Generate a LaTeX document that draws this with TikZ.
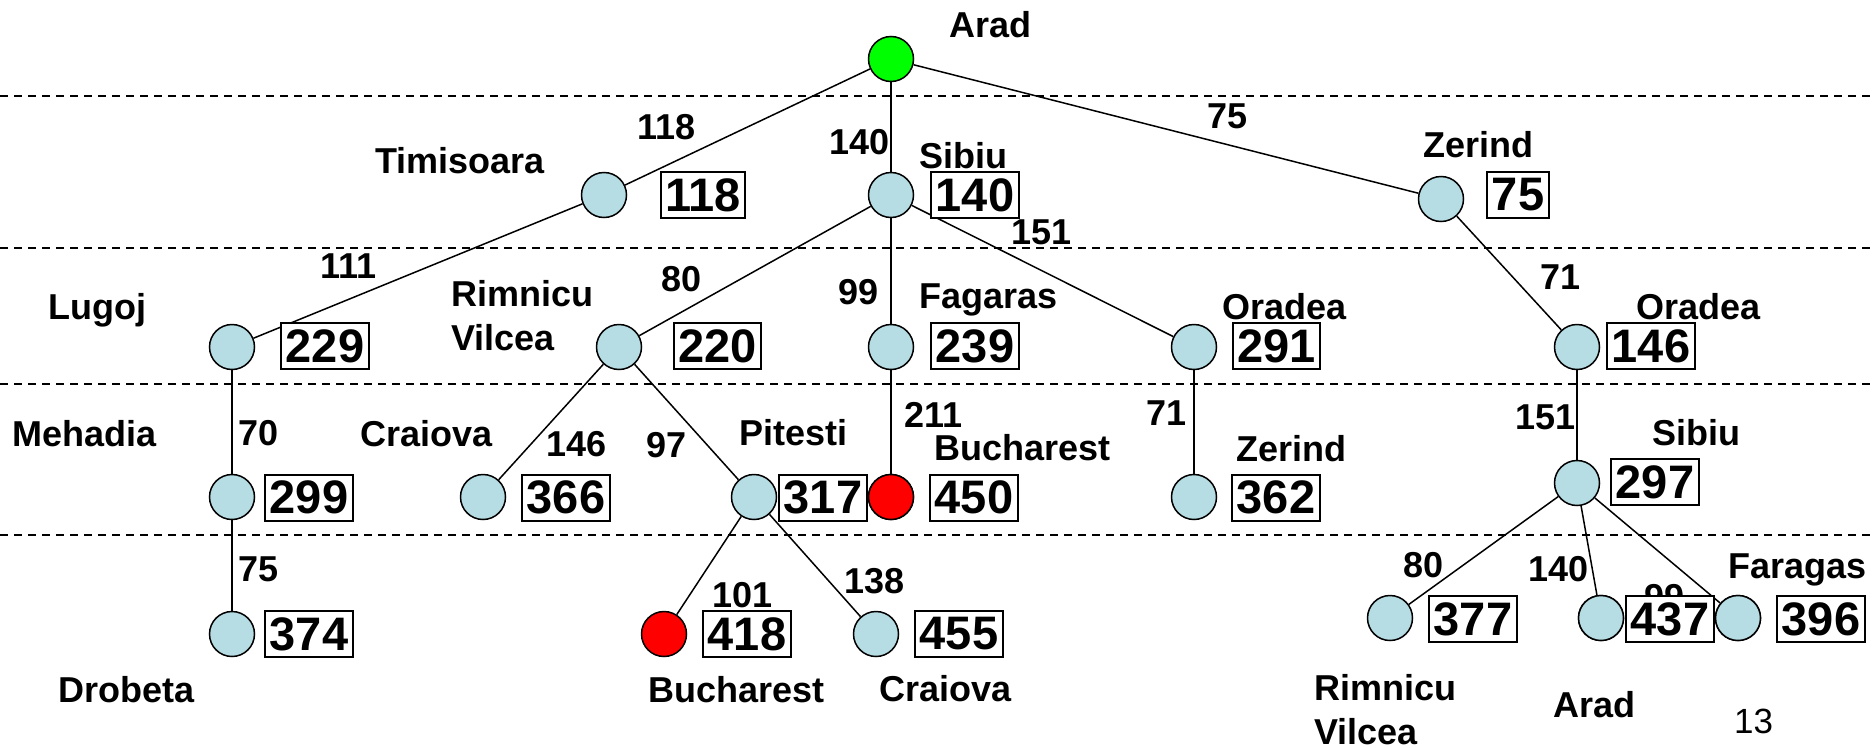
\documentclass[tikz,border=0pt]{standalone}
\usepackage{fontspec}
\setmainfont{Liberation Sans}
\definecolor{nodeblue}{RGB}{183,221,228}
\definecolor{startgreen}{RGB}{0,255,0}
\definecolor{goalred}{RGB}{255,0,0}
\newcommand{\lblfont}{\fontsize{36}{40}\selectfont\bfseries}
\newcommand{\numfont}{\fontsize{47}{50}\selectfont\bfseries}
\tikzset{
  city/.style={circle, draw, line width=1.5pt, fill=nodeblue, minimum size=45pt, inner sep=0pt},
  startcity/.style={city, fill=startgreen},
  goalcity/.style={city, fill=goalred},
  lbl/.style={anchor=base west, inner sep=0pt, font=\lblfont},
  num/.style={draw, line width=2pt, fill=white, inner xsep=4.5pt, inner ysep=0pt, minimum height=46pt, font=\numfont},
  lvl/.style={dash pattern=on 8pt off 6pt, line width=1.5pt},
  link/.style={line width=1.5pt}
}
\begin{document}
\begin{tikzpicture}[x=1pt,y=-1pt]
\useasboundingbox (0,0) rectangle (1876,747);
% level separators
\coordinate (l1a) at (0,96);   \coordinate (l1b) at (1876,96);
\coordinate (l2a) at (0,248);  \coordinate (l2b) at (1876,248);
\coordinate (l3a) at (0,384);  \coordinate (l3b) at (1876,384);
\coordinate (l4a) at (0,535);  \coordinate (l4b) at (1876,535);
\draw[lvl] (l1a) -- (l1b);
\draw[lvl] (l2a) -- (l2b);
\draw[lvl] (l3a) -- (l3b);
\draw[lvl] (l4a) -- (l4b);

% city nodes
\node[startcity] (arad) at (891,59) {};
\node[city] (tim) at (604,195) {};
\node[city] (sib) at (891,195) {};
\node[city] (zer) at (1441,199) {};
\node[city] (lug) at (232,347) {};
\node[city] (rv) at (619,347) {};
\node[city] (fag) at (891,347) {};
\node[city] (ora) at (1194,347) {};
\node[city] (orb) at (1577,347) {};
\node[city] (meh) at (232,497) {};
\node[city] (cra) at (483,497) {};
\node[city] (pit) at (754,497) {};
\node[goalcity] (bua) at (891,497) {};
\node[city] (zeb) at (1194,497) {};
\node[city] (sic) at (1577,483) {};
\node[city] (dro) at (232,634) {};
\node[goalcity] (bub) at (664,634) {};
\node[city] (crb) at (876,634) {};
\node[city] (rvb) at (1390,618) {};
\node[city] (arb) at (1601,618) {};
\node[city] (far) at (1738,618) {};

% connectors
\draw[link] (arad) -- (tim);
\draw[link] (arad) -- (sib);
\draw[link] (arad) -- (zer);
\draw[link] (tim) -- (lug);
\draw[link] (sib) -- (rv);
\draw[link] (sib) -- (fag);
\draw[link] (sib) -- (ora);
\draw[link] (zer) -- (orb);
\draw[link] (lug) -- (meh);
\draw[link] (meh) -- (dro);
\draw[link] (rv) -- (cra);
\draw[link] (rv) -- (pit);
\draw[link] (fag) -- (bua);
\draw[link] (ora) -- (zeb);
\draw[link] (orb) -- (sic);
\draw[link] (pit) -- (bub);
\draw[link] (pit) -- (crb);
\draw[link] (sic) -- (rvb);
\draw[link] (sic) -- (arb);
\draw[link] (sic) -- (far);

% edge costs
\node[lbl] (c118) at (637,139) {118};
\node[lbl] (c140) at (829,154) {140};
\node[lbl] (c75) at (1207,128) {75};
\node[lbl] (c111) at (320,278) {111};
\node[lbl] (c80) at (661,291) {80};
\node[lbl] (c99) at (838,304) {99};
\node[lbl] (c151) at (1011,244) {151};
\node[lbl] (c71a) at (1540,289) {71};
\node[lbl] (c70) at (238,445) {70};
\node[lbl] (c146) at (546,456) {146};
\node[lbl] (c97) at (646,457) {97};
\node[lbl] (c211) at (904,427) {211};
\node[lbl] (c71b) at (1146,425) {71};
\node[lbl] (c151b) at (1515,429) {151};
\node[lbl] (c75b) at (238,581) {75};
\node[lbl] (c101) at (712,607) {101};
\node[lbl] (c138) at (844,593) {138};
\node[lbl] (c80b) at (1403,577) {80};
\node[lbl] (c140b) at (1528,581) {140};
\node[lbl] (c99b) at (1644,609) {99};

% city names
\node[lbl] (tArad) at (949,37) {Arad};
\node[lbl] (tTim) at (375,173) {Timisoara};
\node[lbl] (tSib) at (919,168) {Sibiu};
\node[lbl] (tZer) at (1423,157) {Zerind};
\node[lbl] (tLug) at (48,319) {Lugoj};
\node[lbl] (tRim) at (451,306) {Rimnicu};
\node[lbl] (tVil) at (451,350) {Vilcea};
\node[lbl] (tFag) at (919,308) {Fagaras};
\node[lbl] (tOra) at (1222,319) {Oradea};
\node[lbl] (tOrb) at (1636,319) {Oradea};
\node[lbl] (tMeh) at (12,446) {Mehadia};
\node[lbl] (tCra) at (360,446) {Craiova};
\node[lbl] (tPit) at (739,445) {Pitesti};
\node[lbl] (tBua) at (934,460) {Bucharest};
\node[lbl] (tZeb) at (1236,461) {Zerind};
\node[lbl] (tSic) at (1652,445) {Sibiu};
\node[lbl] (tDro) at (58,702) {Drobeta};
\node[lbl] (tBub) at (648,702) {Bucharest};
\node[lbl] (tCrb) at (879,701) {Craiova};
\node[lbl] (tFar) at (1728,578) {Faragas};
\node[lbl] (tRvb) at (1314,700) {Rimnicu};
\node[lbl] (tVib) at (1314,744) {Vilcea};
\node[lbl] (tArb) at (1553,717) {Arad};
\node[anchor=base west, inner sep=0pt, font=\fontsize{35}{40}\selectfont] (page) at (1734,733) {13};

% path costs
\node[num] (b118) at (703,195) {118};
\node[num] (b140) at (975,195) {140};
\node[num] (b75) at (1518,195) {75};
\node[num] (b229) at (325,346) {229};
\node[num] (b220) at (717.5,346) {220};
\node[num] (b239) at (975,346) {239};
\node[num] (b291) at (1276.5,346) {291};
\node[num] (b146) at (1651,346) {146};
\node[num] (b299) at (309,497.5) {299};
\node[num] (b366) at (566,497.5) {366};
\node[num] (b317) at (823,497.5) {317};
\node[num] (b450) at (974,497.5) {450};
\node[num] (b362) at (1276,497.5) {362};
\node[num] (b297) at (1655,482) {297};
\node[num] (b374) at (309,634) {374};
\node[num] (b418) at (747,634) {418};
\node[num] (b455) at (959,634) {455};
\node[num] (b377) at (1473,619) {377};
\node[num] (b437) at (1670,619) {437};
\node[num] (b396) at (1821,619) {396};

% redraw the nodes that touch boxes on top
\node[city] at (arb) {};
\node[city] at (far) {};
\node[goalcity] at (bua) {};
\end{tikzpicture}
\end{document}
